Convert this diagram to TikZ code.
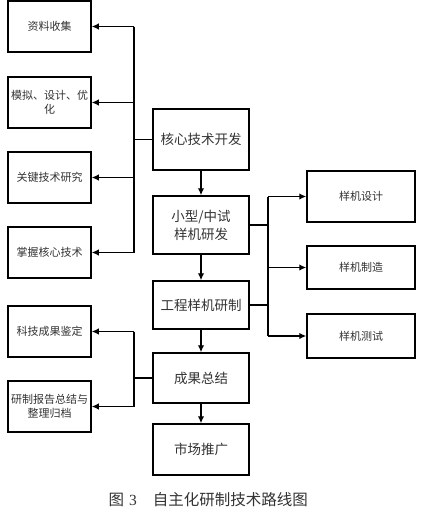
\documentclass[tikz,border=0pt]{standalone}
\usepackage{fontspec}
\setmainfont{Liberation Serif}
\newfontfamily\cjk{Noto Sans CJK SC}
\usetikzlibrary{arrows.meta}
\begin{document}
\begin{tikzpicture}[x=1pt,y=-1pt,
  box/.style={draw=black, line width=1.5pt, inner sep=1pt, align=center, font=\cjk\fontsize{11}{13.5}\selectfont, text=black!80},
  lbox/.style={box, minimum width=83pt, minimum height=51pt, text width=80pt},
  cbox/.style={box, minimum width=96pt, font=\cjk\fontsize{13.5}{18}\selectfont},
  rbox/.style={box, minimum width=108pt},
  ln/.style={line width=1.5pt},
  arr/.style={line width=1.5pt, -{Latex[length=7pt,width=6.5pt]}}]
\useasboundingbox[fill=white] (0,0) rectangle (424,514);
% left boxes
\node[lbox] (b1) at (49.5,26.5) {资料收集};
\node[lbox] (b2) at (49.5,102.5) {模拟、设计、优\\化};
\node[lbox] (b3) at (49.5,177.5) {关键技术研究};
\node[lbox] (b4) at (49.5,252.5) {掌握核心技术};
\node[lbox] (b5) at (49.5,331.5) {科技成果鉴定};
\node[lbox] (b6) at (49.5,406.5) {研制报告总结与\\整理归档};
% center boxes
\node[cbox, minimum height=61pt] (core) at (201,139.5) {核心技术开发};
\node[cbox, minimum height=58pt] (small) at (201,225) {小型/中试\\样机研发};
\node[cbox, minimum height=48pt] (eng) at (201,305) {工程样机研制};
\node[cbox, minimum height=50pt] (res) at (201,378) {成果总结};
\node[cbox, minimum height=51pt] (mkt) at (201,449.5) {市场推广};
% right boxes
\node[rbox, minimum height=51pt] (ra) at (361,196.5) {样机设计};
\node[rbox, minimum height=43pt] (rb) at (361,267.5) {样机制造};
\node[rbox, minimum height=44pt] (rc) at (361,336) {样机测试};
% bus coordinates
\coordinate (lb) at (134,0);
\coordinate (rbus) at (268,0);
% left upper bus
\draw[ln] (core.west) -- (core.west -| lb);
\draw[ln] (b1.east -| lb) -- (b4.east -| lb);
\foreach \n in {b1,b2,b3,b4} \draw[arr] (\n.east -| lb) -- (\n.east);
% left lower bus
\draw[ln] (res.west) -- (res.west -| lb);
\draw[ln] (b5.east -| lb) -- (b6.east -| lb);
\foreach \n in {b5,b6} \draw[arr] (\n.east -| lb) -- (\n.east);
% right bus
\draw[ln] (small.east) -- (small.east -| rbus);
\draw[ln] (eng.east) -- (eng.east -| rbus);
\draw[ln] (ra.west -| rbus) -- (rc.west -| rbus);
\foreach \n in {ra,rb,rc} \draw[arr] (\n.west -| rbus) -- (\n.west);
% vertical flow
\draw[arr] (core) -- (small);
\draw[arr] (small) -- (eng);
\draw[arr] (eng) -- (res);
\draw[arr] (res) -- (mkt);
% caption
\node[font=\fontsize{15.5}{18}\selectfont, text=black!80, anchor=west] (cap) at (105,500) {{\cjk 图}\hspace{5pt}3\hspace{16pt}{\cjk 自主化研制技术路线图}};
\end{tikzpicture}
\end{document}
